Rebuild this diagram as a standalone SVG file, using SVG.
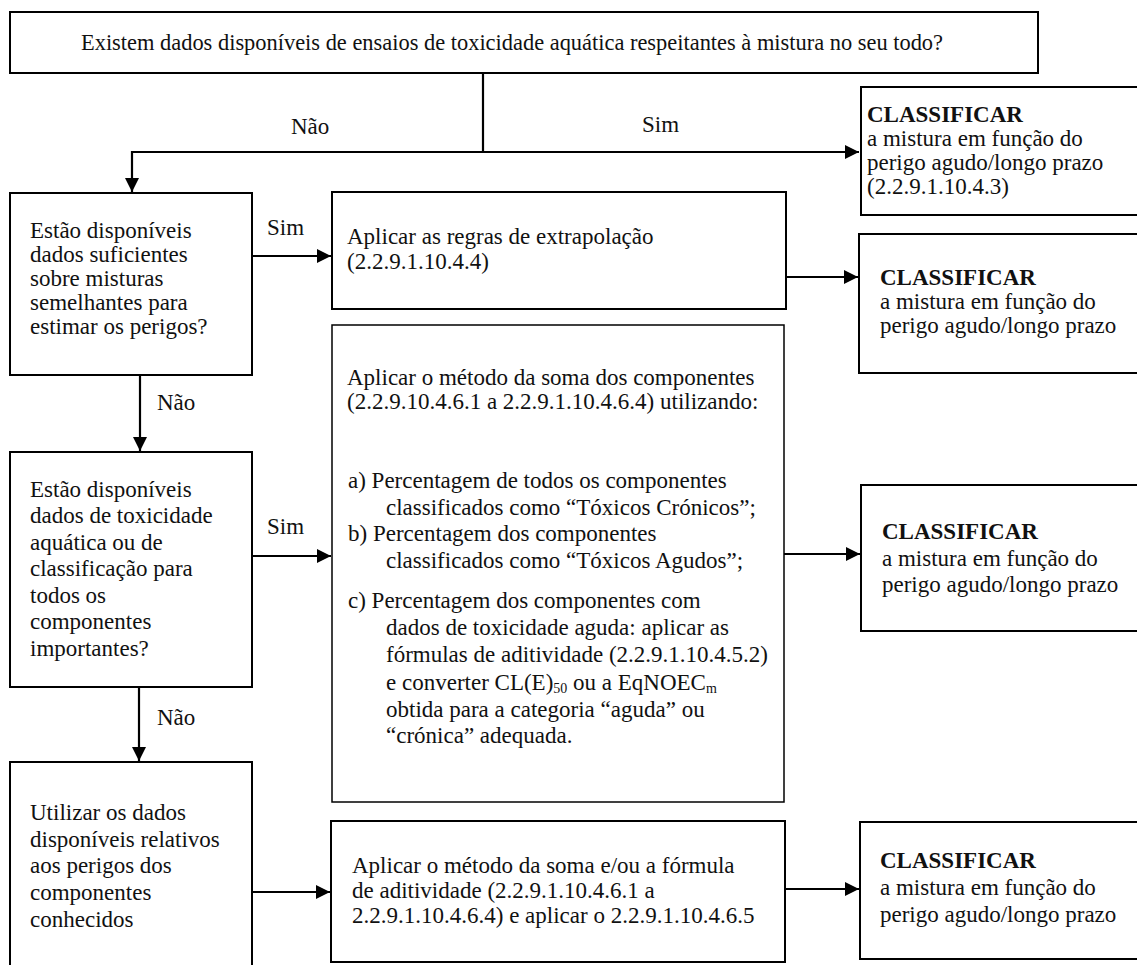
<svg xmlns="http://www.w3.org/2000/svg" width="1137" height="965" viewBox="0 0 1137 965">
<defs>
<marker id="ah" markerUnits="userSpaceOnUse" markerWidth="16" markerHeight="16" refX="14" refY="7" orient="auto">
<path d="M0,0 L14,7 L0,14 Z" fill="#000"/>
</marker>
<style>
.box{fill:#fff;stroke:#000;stroke-width:2}
.thin{stroke-width:1.5}
text{font-family:'Liberation Serif','Times New Roman',serif;font-size:23px;fill:#111}
.b{font-weight:bold}
.conn{fill:none;stroke:#000;stroke-width:2.2}
.sub{font-size:14px}
</style>
</defs>
<rect width="1137" height="965" fill="#fff"/>
<g font-family="Liberation Serif, serif">

<g id="n_top">
<rect class="box" x="10" y="12" width="1028" height="61"/>
<text x="81" y="50" textLength="862" lengthAdjust="spacingAndGlyphs">Existem dados disponíveis de ensaios de toxicidade aquática respeitantes à mistura no seu todo?</text>
</g>

<g id="n_class1">
<rect class="box" x="861" y="87" width="290" height="128"/>
<text x="867" y="122" class="b">CLASSIFICAR</text>
<text x="867" y="146">a mistura em função do</text>
<text x="867" y="170">perigo agudo/longo prazo</text>
<text x="867" y="194">(2.2.9.1.10.4.3)</text>
</g>

<g id="n_q1">
<rect class="box" x="10" y="193" width="242" height="182"/>
<text x="30" y="238">Estão disponíveis</text>
<text x="30" y="262">dados suficientes</text>
<text x="30" y="286">sobre misturas</text>
<text x="30" y="310">semelhantes para</text>
<text x="30" y="334">estimar os perigos?</text>
</g>

<g id="n_extrap">
<rect class="box" x="332" y="192" width="454" height="117"/>
<text x="347" y="244">Aplicar as regras de extrapolação</text>
<text x="347" y="269">(2.2.9.1.10.4.4)</text>
</g>

<g id="n_class2">
<rect class="box" x="859" y="234" width="290" height="139"/>
<text x="880" y="285" class="b">CLASSIFICAR</text>
<text x="880" y="309">a mistura em função do</text>
<text x="880" y="333">perigo agudo/longo prazo</text>
</g>

<g id="n_q2">
<rect class="box" x="10" y="452" width="242" height="235"/>
<text x="30" y="497">Estão disponíveis</text>
<text x="30" y="523">dados de toxicidade</text>
<text x="30" y="550">aquática ou de</text>
<text x="30" y="576">classificação para</text>
<text x="30" y="603">todos os</text>
<text x="30" y="629">componentes</text>
<text x="30" y="656">importantes?</text>
</g>

<g id="n_soma">
<rect class="box thin" x="332" y="325" width="452" height="477"/>
<text x="347" y="385">Aplicar o método da soma dos componentes</text>
<text x="347" y="409">(2.2.9.10.4.6.1 a 2.2.9.1.10.4.6.4) utilizando:</text>
<text x="348" y="488">a) Percentagem de todos os componentes</text>
<text x="386" y="515">classificados como “Tóxicos Crónicos”;</text>
<text x="348" y="541">b) Percentagem dos componentes</text>
<text x="386" y="568">classificados como “Tóxicos Agudos”;</text>
<text x="348" y="608">c) Percentagem dos componentes com</text>
<text x="386" y="635">dados de toxicidade aguda: aplicar as</text>
<text x="386" y="662">fórmulas de aditividade (2.2.9.1.10.4.5.2)</text>
<text x="386" y="690">e converter CL(E)<tspan class="sub" dy="3">50</tspan><tspan dy="-3"> ou a EqNOEC</tspan><tspan class="sub" dy="3">m</tspan></text>
<text x="386" y="717">obtida para a categoria “aguda” ou</text>
<text x="386" y="743">“crónica” adequada.</text>
</g>

<g id="n_class3">
<rect class="box" x="861" y="485" width="290" height="146"/>
<text x="882" y="539" class="b">CLASSIFICAR</text>
<text x="882" y="566">a mistura em função do</text>
<text x="882" y="592">perigo agudo/longo prazo</text>
</g>

<g id="n_util">
<rect class="box" x="10" y="762" width="242" height="215"/>
<text x="30" y="820">Utilizar os dados</text>
<text x="30" y="847">disponíveis relativos</text>
<text x="30" y="873">aos perigos dos</text>
<text x="30" y="900">componentes</text>
<text x="30" y="927">conhecidos</text>
</g>

<g id="n_formula">
<rect class="box" x="331" y="821" width="454" height="141"/>
<text x="352" y="873">Aplicar o método da soma e/ou a fórmula</text>
<text x="352" y="898">de aditividade (2.2.9.1.10.4.6.1 a</text>
<text x="352" y="923">2.2.9.1.10.4.6.4) e aplicar o 2.2.9.1.10.4.6.5</text>
</g>

<g id="n_class4">
<rect class="box" x="860" y="822" width="290" height="137"/>
<text x="880" y="868" class="b">CLASSIFICAR</text>
<text x="880" y="895">a mistura em função do</text>
<text x="880" y="922">perigo agudo/longo prazo</text>
</g>

<g id="connectors">
<path class="conn" d="M483,73 V152 H132 V192" marker-end="url(#ah)"/>
<path class="conn" d="M483,152 H859" marker-end="url(#ah)"/>
<path class="conn" d="M252,256 H331" marker-end="url(#ah)"/>
<path class="conn" d="M786,277 H858" marker-end="url(#ah)"/>
<path class="conn" d="M140,375 V451" marker-end="url(#ah)"/>
<path class="conn" d="M252,556 H331" marker-end="url(#ah)"/>
<path class="conn" d="M784,554 H860" marker-end="url(#ah)"/>
<path class="conn" d="M139,687 V761" marker-end="url(#ah)"/>
<path class="conn" d="M252,892 H330" marker-end="url(#ah)"/>
<path class="conn" d="M785,889 H859" marker-end="url(#ah)"/>
<text x="291" y="134">Não</text>
<text x="642" y="132">Sim</text>
<text x="267" y="235">Sim</text>
<text x="157" y="410">Não</text>
<text x="267" y="534">Sim</text>
<text x="157" y="725">Não</text>
</g>
</g>
</svg>
